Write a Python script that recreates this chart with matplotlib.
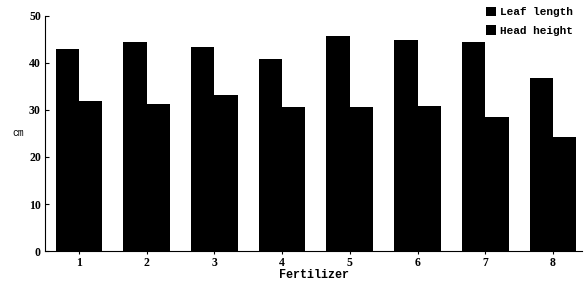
import numpy as np
import matplotlib
matplotlib.use("Agg")
import matplotlib.pyplot as plt

# values (cm)
fertilizer = [1, 2, 3, 4, 5, 6, 7, 8]
leaf_length = [42.9, 44.4, 43.4, 40.8, 45.7, 44.8, 44.4, 36.7]
head_height = [31.8, 31.3, 33.2, 30.6, 30.6, 30.9, 28.4, 24.2]
series_names = ["Leaf length", "Head height"]

fig = plt.figure(figsize=(5.85, 2.84), dpi=100)
ax = fig.add_axes([0.077, 0.116, 0.918, 0.828])

x = np.array(fertilizer)
w = 0.345
ax.bar(x - w / 2, leaf_length, w, color="black", label=series_names[0])
ax.bar(x + w / 2, head_height, w, color="black", label=series_names[1])

ax.set_xlim(0.5, 8.43)
ax.set_ylim(0, 50)
ax.set_yticks([0, 10, 20, 30, 40, 50])
ax.set_xticks(fertilizer)

for s in ["top", "right"]:
    ax.spines[s].set_visible(False)
ax.spines["left"].set_linewidth(0.8)
ax.spines["bottom"].set_linewidth(0.8)
ax.tick_params(axis="y", direction="in", length=3, width=0.8, pad=3)
ax.tick_params(axis="x", direction="out", length=2, width=0.8, pad=2)
for lab in ax.get_xticklabels() + ax.get_yticklabels():
    lab.set_fontfamily("Liberation Serif")
    lab.set_fontweight("bold")
    lab.set_fontsize(8.5)

ax.set_xlabel("Fertilizer", family="Liberation Mono", fontsize=8.5,
              fontweight="bold", labelpad=0)
ax.set_ylabel("cm", family="Liberation Mono", fontsize=7, rotation=0,
              labelpad=8, va="center")

fig.legend(loc="upper right", bbox_to_anchor=(0.99, 1.0), frameon=False,
           prop={"family": "Liberation Mono", "size": 8, "weight": "bold"},
           handlelength=0.9, handleheight=0.9, handletextpad=0.3,
           labelspacing=0.75, borderaxespad=0.2)

fig.savefig("out.png", dpi=100)
